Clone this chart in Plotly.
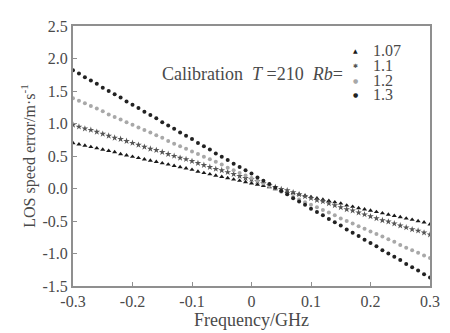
import plotly.graph_objects as go

freq = [-0.30,-0.29,-0.28,-0.27,-0.26,-0.25,-0.24,-0.23,-0.22,-0.21,
        -0.20,-0.19,-0.18,-0.17,-0.16,-0.15,-0.14,-0.13,-0.12,-0.11,
        -0.10,-0.09,-0.08,-0.07,-0.06,-0.05,-0.04,-0.03,-0.02,-0.01,
        0.00,0.01,0.02,0.03,0.04,0.05,0.06,0.07,0.08,0.09,
        0.10,0.11,0.12,0.13,0.14,0.15,0.16,0.17,0.18,0.19,
        0.20,0.21,0.22,0.23,0.24,0.25,0.26,0.27,0.28,0.29,0.30]

err_107 = [0.70,0.68,0.66,0.64,0.62,0.60,0.58,0.56,0.53,0.51,
           0.49,0.47,0.45,0.43,0.41,0.39,0.37,0.35,0.33,0.31,
           0.29,0.26,0.24,0.22,0.20,0.18,0.16,0.14,0.12,0.10,
           0.08,0.06,0.04,0.02,-0.01,-0.03,-0.05,-0.07,-0.09,-0.11,
           -0.13,-0.15,-0.17,-0.19,-0.21,-0.23,-0.26,-0.28,-0.30,-0.32,
           -0.34,-0.36,-0.38,-0.40,-0.42,-0.44,-0.46,-0.48,-0.50,-0.52,-0.55]

err_11 = [0.98,0.95,0.92,0.90,0.87,0.84,0.81,0.78,0.76,0.73,
          0.70,0.67,0.64,0.61,0.59,0.56,0.53,0.50,0.47,0.45,
          0.42,0.39,0.36,0.33,0.30,0.28,0.25,0.22,0.19,0.16,
          0.14,0.11,0.08,0.05,0.02,-0.01,-0.03,-0.06,-0.09,-0.12,
          -0.15,-0.18,-0.20,-0.23,-0.26,-0.29,-0.32,-0.34,-0.37,-0.40,
          -0.43,-0.46,-0.49,-0.51,-0.54,-0.57,-0.60,-0.63,-0.65,-0.68,-0.71]

err_12 = [1.39,1.35,1.31,1.27,1.23,1.19,1.14,1.10,1.06,1.02,
          0.98,0.94,0.90,0.86,0.82,0.78,0.73,0.69,0.65,0.61,
          0.57,0.53,0.49,0.45,0.41,0.37,0.32,0.28,0.24,0.20,
          0.16,0.12,0.08,0.04,0.00,-0.05,-0.09,-0.13,-0.17,-0.21,
          -0.25,-0.29,-0.33,-0.37,-0.41,-0.46,-0.50,-0.54,-0.58,-0.62,
          -0.66,-0.70,-0.74,-0.78,-0.82,-0.87,-0.91,-0.95,-0.99,-1.03,-1.07]

err_13 = [1.82,1.77,1.71,1.66,1.61,1.55,1.50,1.45,1.40,1.34,
          1.29,1.24,1.18,1.13,1.08,1.02,0.97,0.92,0.86,0.81,
          0.76,0.70,0.65,0.60,0.54,0.49,0.44,0.38,0.33,0.28,
          0.23,0.17,0.12,0.07,0.01,-0.04,-0.09,-0.15,-0.20,-0.25,
          -0.31,-0.36,-0.41,-0.47,-0.52,-0.57,-0.63,-0.68,-0.73,-0.79,
          -0.84,-0.89,-0.95,-1.00,-1.05,-1.10,-1.16,-1.21,-1.26,-1.32,-1.37]

series_names = ["1.07", "1.1", "1.2", "1.3"]
legend_glyphs = ["▲", "✱", "●", "●"]
x_ticks = [-0.3, -0.2, -0.1, 0, 0.1, 0.2, 0.3]
x_tick_text = ["-0.3", "-0.2", "-0.1", "0", "0.1", "0.2", "0.3"]
y_ticks = [-1.5, -1.0, -0.5, 0.0, 0.5, 1.0, 1.5, 2.0, 2.5]
y_tick_text = ["-1.5", "-1.0", "-0.5", "0.0", "0.5", "1.0", "1.5", "2.0", "2.5"]

styles = [
    dict(symbol="triangle-up", color="#1a1a1a", size=4.5),
    dict(symbol="star", color="#555555", size=5),
    dict(symbol="circle", color="#a8a8a8", size=4),
    dict(symbol="circle", color="#222222", size=4),
]

fig = go.Figure()
for name, ys, st in zip(series_names, [err_107, err_11, err_12, err_13], styles):
    fig.add_trace(go.Scatter(
        x=freq, y=ys, mode="markers", name=name, showlegend=False,
        marker=dict(symbol=st["symbol"], color=st["color"], size=st["size"],
                    line=dict(width=0)),
    ))

font_family = "Times New Roman, Liberation Serif, DejaVu Serif, serif"
text_color = "#4a4a4a"
axis_color = "#8f8f8f"

# legend drawn as text: glyph + label, tight rows as in the reference
annotations = []
legend_rows_y = [0.905, 0.848, 0.792, 0.735]
for name, glyph, st, yy in zip(series_names, legend_glyphs, styles, legend_rows_y):
    annotations.append(dict(x=0.79, y=yy, xref="paper", yref="paper",
                            xanchor="center", yanchor="middle", showarrow=False,
                            text=glyph, font=dict(family="DejaVu Sans", size=6, color=st["color"])))
    annotations.append(dict(x=0.835, y=yy, xref="paper", yref="paper",
                            xanchor="left", yanchor="middle", showarrow=False,
                            text=name, font=dict(family=font_family, size=16, color=text_color)))
annotations.append(dict(
    x=0.762, y=0.815, xref="paper", yref="paper", xanchor="right", yanchor="middle",
    text="Calibration  <i>T</i> =210  <i>Rb</i>=", showarrow=False,
    font=dict(family=font_family, size=18, color=text_color)))

# page body has an 8px margin; compensate so the plot lands where the reference has it
fig.update_layout(
    width=442, height=325,
    margin=dict(l=65, r=19, t=10, b=46),
    paper_bgcolor="white", plot_bgcolor="white",
    font=dict(family=font_family, size=16, color=text_color),
    xaxis=dict(range=[-0.3, 0.3], tickvals=x_ticks, ticktext=x_tick_text,
               showgrid=False, zeroline=False, showline=True, linecolor=axis_color,
               linewidth=2, mirror=True, ticks="inside", ticklen=4, tickcolor=axis_color,
               tickfont=dict(size=16), title=dict(text="Frequency/GHz", standoff=0,
                                                  font=dict(size=18))),
    yaxis=dict(range=[-1.5, 2.5], tickvals=y_ticks, ticktext=y_tick_text,
               showgrid=False, zeroline=False, showline=True, linecolor=axis_color,
               linewidth=2, mirror=True, ticks="inside", ticklen=4, tickcolor=axis_color,
               tickfont=dict(size=16),
               title=dict(text="LOS speed error/m·s<sup>-1</sup>", standoff=3,
                          font=dict(size=16))),
    annotations=annotations,
)

fig.write_html("out.html")
